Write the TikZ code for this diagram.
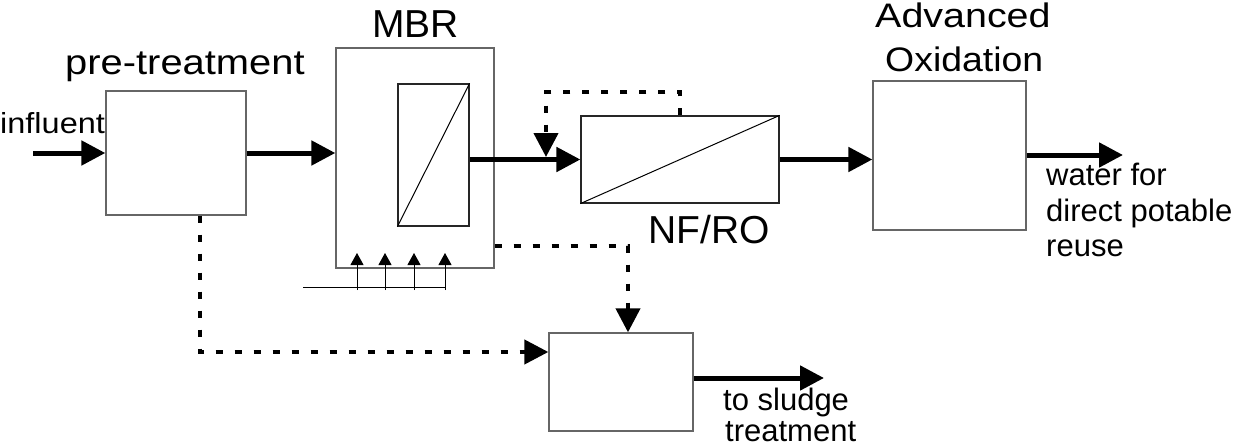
\documentclass[tikz,border=0pt]{standalone}
\usepackage{fontspec}
\setmainfont{Liberation Sans}
\usetikzlibrary{arrows.meta}
\tikzset{
  box/.style={draw=black!60, line width=1.3pt, rectangle, inner sep=0pt},
  darkbox/.style={draw=black!85, line width=1.2pt, rectangle, inner sep=0pt},
  flow/.style={line width=5pt, -{Triangle[length=24pt,width=24pt]}},
  dflow/.style={line width=4.2pt, dash pattern=on 7pt off 12pt, -{Triangle[length=24pt,width=24pt]}},
  air/.style={line width=1pt, -{Triangle[length=12pt,width=13pt]}},
  lbl/.style={inner sep=0pt, anchor=base west},
}
\newcommand{\fs}[1]{\fontsize{#1}{#1}\selectfont}
\begin{document}
\begin{tikzpicture}[x=1pt,y=-1pt]
\useasboundingbox (0,0) rectangle (1235,447);
% boxes
\node[box, minimum width=140pt, minimum height=124pt] (pre) at (176,153) {};
\node[box, minimum width=158pt, minimum height=220pt] (mbr) at (415,158) {};
\node[darkbox, minimum width=71pt, minimum height=142pt] (mem) at (433.5,155) {};
\node[darkbox, minimum width=198pt, minimum height=87pt] (nfro) at (680,159.5) {};
\node[box, minimum width=153pt, minimum height=149pt] (ao) at (949.5,155.5) {};
\node[box, minimum width=144pt, minimum height=98pt] (sludge) at (621,382) {};
% membrane diagonals
\draw[line width=1pt] (mem.south west) -- (mem.north east);
\draw[line width=1pt] (nfro.south west) -- (nfro.north east);
% aeration
\coordinate (a0) at (303,287);
\coordinate (a4) at (445,287);
\draw[line width=1pt] (a0) -- (a4);
\foreach \x/\n in {357/1,385/2,414/3,445/4}{
  \coordinate (ab\n) at (\x,290);
  \coordinate (at\n) at (\x,253);
  \draw[air] (ab\n) -- (at\n);
}
% main flow
\coordinate (in) at (33,153);
\draw[flow] (in) -- (in -| pre.west);
\draw[flow] (pre.east) -- (pre.east -| mbr.west);
\draw[flow] (nfro.west -| mem.east) -- (nfro.west);
\draw[flow] (nfro.east) -- (nfro.east -| ao.west);
\coordinate (out) at (1123,155);
\draw[flow] (out -| ao.east) -- (out);
\coordinate (sout) at (824,378);
\draw[flow] (sout -| sludge.east) -- (sout);
% recirculation
\coordinate (r1) at (680,92);
\coordinate (r2) at (546,92);
\coordinate (r3) at (546,157);
\draw[dflow] (r1 |- nfro.north) -- (r1) -- (r2) -- (r3);
% sludge lines
\coordinate (d1) at (200,352);
\draw[dflow] (d1 |- pre.south) -- (d1) -- (d1 -| sludge.west);
\coordinate (d2) at (628,246);
\draw[dflow] (d2 -| mbr.east) -- (d2) -- (d2 |- sludge.north);
% labels
\node[lbl] (tinf) at (0,133) {\fs{29}\scalebox{1.12}[1]{influent}};
\node[lbl] (tpre) at (65,74) {\fs{35}\scalebox{1.14}[1]{pre-treatment}};
\node[lbl] (tmbr) at (372,37) {\fs{39}MBR};
\node[lbl] (tadv) at (875,27.3) {\fs{34}\scalebox{1.16}[1]{Advanced}};
\node[lbl] (toxi) at (885,71.7) {\fs{34}\scalebox{1.10}[1]{Oxidation}};
\node[lbl] (tnf) at (648,243) {\fs{39}NF/RO};
\node[lbl] (tw1) at (1046,185) {\fs{31}water for};
\node[lbl] (tw2) at (1046,221.7) {\fs{31}direct potable};
\node[lbl] (tw3) at (1046,256.7) {\fs{31}reuse};
\node[lbl] (ts1) at (723,410) {\fs{31}to sludge};
\node[lbl] (ts2) at (725,441.7) {\fs{31}treatment};
\end{tikzpicture}
\end{document}
